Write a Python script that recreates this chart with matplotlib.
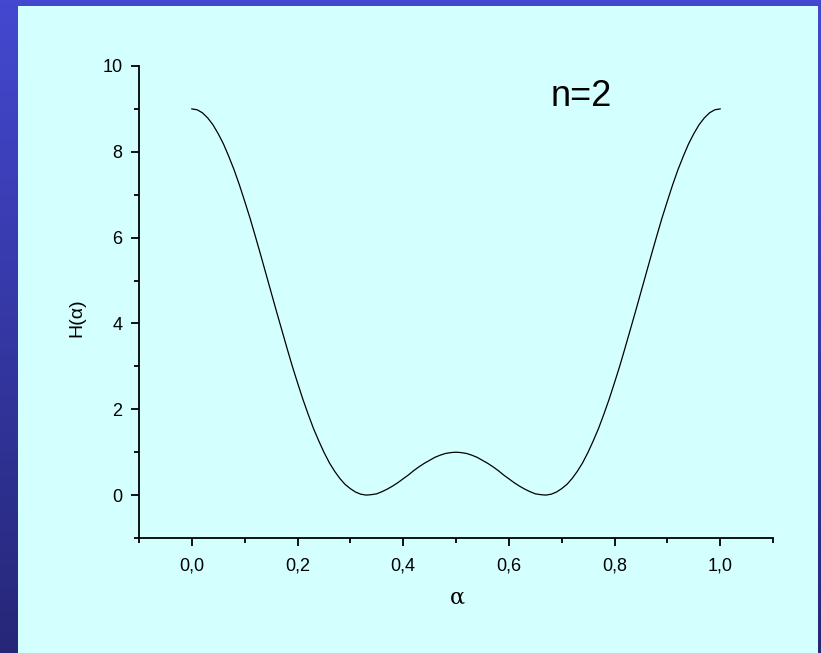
import numpy as np
import matplotlib
matplotlib.use("Agg")
import matplotlib.pyplot as plt
from matplotlib.patches import Rectangle
from matplotlib.ticker import MultipleLocator, FuncFormatter

# values, alpha step 0.01
alpha = [round(0.01 * i, 2) for i in range(101)]
H = [9.00, 8.98, 8.91, 8.79, 8.63, 8.42, 8.18, 7.89, 7.58, 7.23,
     6.85, 6.46, 6.04, 5.61, 5.17, 4.73, 4.29, 3.86, 3.43, 3.01,
     2.62, 2.24, 1.89, 1.56, 1.27, 1.00, 0.76, 0.56, 0.39, 0.25,
     0.15, 0.07, 0.02, 0.00, 0.01, 0.03, 0.08, 0.14, 0.21, 0.29,
     0.38, 0.47, 0.57, 0.66, 0.74, 0.81, 0.88, 0.93, 0.97, 0.99,
     1.00,
     0.99, 0.97, 0.93, 0.88, 0.81, 0.74, 0.66, 0.57, 0.47, 0.38,
     0.29, 0.21, 0.14, 0.08, 0.03, 0.01, 0.00, 0.02, 0.07, 0.15,
     0.25, 0.39, 0.56, 0.76, 1.00, 1.27, 1.56, 1.89, 2.24, 2.62,
     3.01, 3.43, 3.86, 4.29, 4.73, 5.17, 5.61, 6.04, 6.46, 6.85,
     7.23, 7.58, 7.89, 8.18, 8.42, 8.63, 8.79, 8.91, 8.98, 9.00]
xticks = [0.0, 0.2, 0.4, 0.6, 0.8, 1.0]
yticks = [0, 2, 4, 6, 8, 10]

W, Hpx = 821, 653
fig = plt.figure(figsize=(W / 100, Hpx / 100), dpi=100)

# blue slide background with a vertical gradient
bg = fig.add_axes([0, 0, 1, 1], zorder=-10)
t = np.linspace(0, 1, 200)[:, None, None]
top = np.array([0x44, 0x48, 0xd0]) / 255
bot = np.array([0x26, 0x27, 0x78]) / 255
grad = top * (1 - t) + bot * t
bg.imshow(np.repeat(grad, 2, axis=1), aspect="auto", extent=[0, 1, 0, 1])
bg.set_xlim(0, 1)
bg.set_ylim(0, 1)
bg.axis("off")

# light cyan panel
fig.patches.append(Rectangle((18 / W, 0), (818 - 18) / W, (653 - 6) / Hpx,
                             transform=fig.transFigure, facecolor="#d4ffff",
                             edgecolor="none", zorder=-5))

ax = fig.add_axes([139 / W, 1 - 538 / Hpx, (773 - 139) / W, (538 - 66) / Hpx])
ax.patch.set_alpha(0)
ax.plot(alpha, H, color="black", lw=0.9)

ax.set_xlim(-0.1, 1.1)
ax.set_ylim(-1, 10)
ax.spines["top"].set_visible(False)
ax.spines["right"].set_visible(False)
ax.spines["left"].set_linewidth(1.3)
ax.spines["bottom"].set_linewidth(1.3)

ax.set_xticks(xticks)
ax.set_yticks(yticks)
ax.xaxis.set_minor_locator(MultipleLocator(0.1))
ax.yaxis.set_minor_locator(MultipleLocator(1))
ax.xaxis.set_major_formatter(FuncFormatter(lambda v, p: f"{v:.1f}".replace(".", ",")))
ax.tick_params(which="major", direction="out", length=6, width=1.3,
               labelsize=13)
ax.tick_params(axis="x", which="major", pad=8)
ax.tick_params(axis="y", which="major", pad=6)
ax.tick_params(which="minor", direction="out", length=3.5, width=1.3)
for lab in ax.get_xticklabels() + ax.get_yticklabels():
    lab.set_family("Liberation Sans")

ax.text(0.68, 9.07, "n=2", fontsize=26, family="Liberation Sans",
        ha="left", va="baseline")

fig.text(77 / W, 1 - 318 / Hpx, "H(α)", rotation=90, ha="center", va="center",
         fontsize=14, family="Liberation Sans")
fig.text(457 / W, 1 - 598 / Hpx, "α", ha="center", va="center",
         fontsize=16, family="DejaVu Serif")

fig.savefig("out.png", dpi=100)
